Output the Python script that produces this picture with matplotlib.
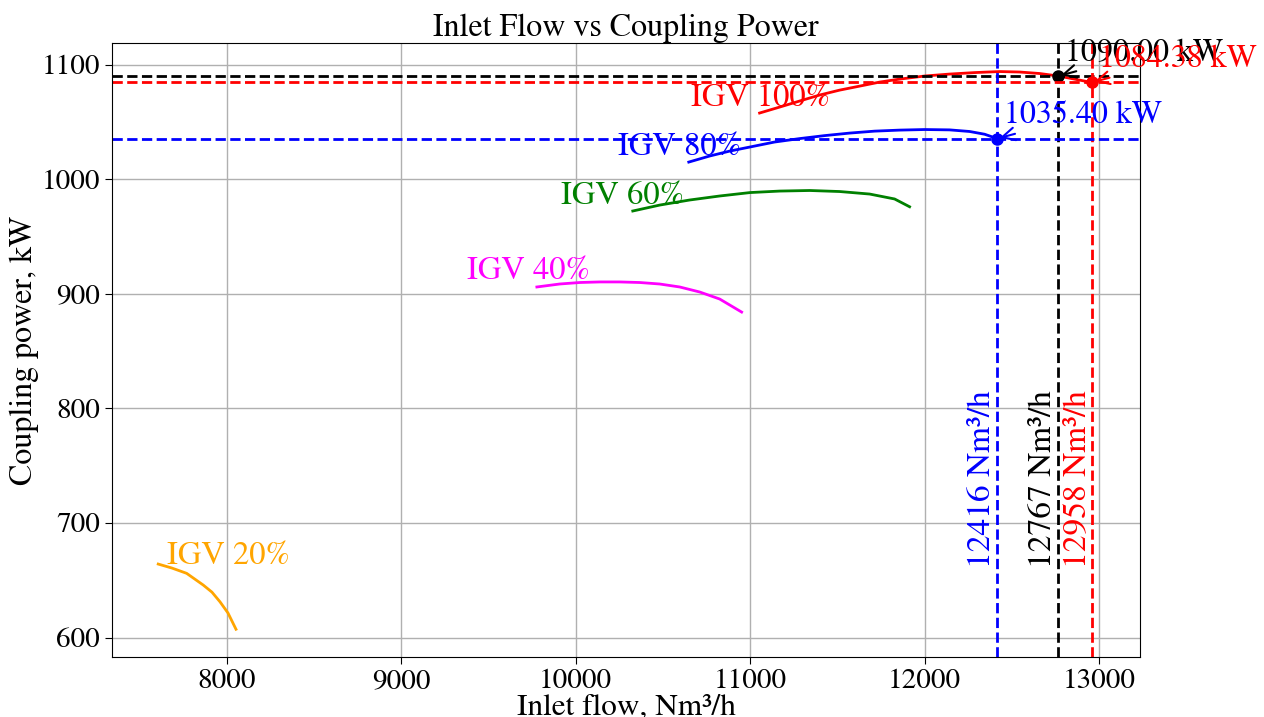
import numpy as np
import matplotlib
matplotlib.use('Agg')
import matplotlib.pyplot as plt

plt.rcParams['font.family'] = ['STIXGeneral', 'DejaVu Serif']
plt.rcParams['mathtext.fontset'] = 'stix'

# curve data (inlet flow Nm3/h, coupling power kW)
igv_labels = ['IGV 100%', 'IGV 80%', 'IGV 60%', 'IGV 40%', 'IGV 20%']
igv_colors = ['red', 'blue', 'green', 'magenta', 'orange']

flow_100 = [11054, 11169, 11284, 11398, 11513, 11628, 11742, 11857, 12000,
            12143, 12287, 12430, 12544, 12659, 12767, 12860, 12958]
power_100 = [1057.7, 1062.9, 1068.2, 1073.4, 1077.7, 1081.2, 1084.7, 1087.3, 1090.0,
             1091.7, 1093.0, 1093.9, 1093.5, 1092.2, 1090.0, 1087.3, 1084.38]

flow_80 = [10648, 10768, 10883, 10997, 11140, 11284, 11427, 11570, 11713,
           11857, 12000, 12143, 12258, 12344, 12416]
power_80 = [1014.9, 1020.2, 1024.5, 1028.0, 1032.4, 1035.4, 1038.0, 1040.2, 1041.9,
            1042.8, 1043.3, 1043.0, 1041.6, 1039.2, 1035.4]

flow_60 = [10327, 10482, 10653, 10825, 11000, 11169, 11341, 11513, 11685, 11828, 11914]
power_60 = [972.2, 977.4, 981.8, 985.3, 988.3, 989.6, 990.1, 989.2, 987.0, 982.7, 975.9]

flow_40 = [9777, 9908, 10023, 10138, 10252, 10367, 10481, 10596, 10711, 10825, 10951]
power_40 = [905.9, 908.5, 909.8, 910.3, 910.3, 909.8, 908.5, 905.9, 901.5, 895.4, 884.0]

flow_20 = [7606, 7685, 7769, 7864, 7914, 7960, 8006, 8052]
power_20 = [664.1, 660.6, 656.0, 645.8, 639.6, 631.2, 621.4, 607.2]

# where the IGV labels sit (center x, bottom y)
label_x = [11059, 10596, 10269, 9731, 8011]
label_y = [1058, 1015, 972, 906.5, 658]

# marked operating points
mark_flow = [12767, 12958, 12416]
mark_power = [1090.00, 1084.38, 1035.40]
mark_colors = ['black', 'red', 'blue']

flows = [flow_100, flow_80, flow_60, flow_40, flow_20]
powers = [power_100, power_80, power_60, power_40, power_20]

fig = plt.figure(figsize=(12.64, 7.17), dpi=100)
ax = fig.add_axes([0.0886, 0.0837, 0.8133, 0.8563])

for f, p, c, lab, lx, ly in zip(flows, powers, igv_colors, igv_labels, label_x, label_y):
    ax.plot(f, p, color=c, lw=2)
    ax.text(lx, ly, lab, color=c, fontsize=23.5, ha='center', va='bottom')

for fx, py, c in zip(mark_flow, mark_power, mark_colors):
    ax.axhline(py, color=c, ls='--', lw=2)
    ax.axvline(fx, color=c, ls='--', lw=2)
    ax.plot(fx, py, 'o', color=c, markersize=8)
    ax.annotate('%.2f kW' % py, xy=(fx, py), xytext=(5, 11), textcoords='offset points',
                color=c, fontsize=23, arrowprops=dict(arrowstyle='->', color=c, lw=1.5))
    ax.text(fx, 661, '%d Nm³/h' % fx, color=c, fontsize=24, rotation=90,
            ha='right', va='bottom')

ax.set_xlim(7341, 13235)
ax.set_ylim(583, 1118.8)
ax.set_xticks([8000, 9000, 10000, 11000, 12000, 13000])
ax.set_yticks([600, 700, 800, 900, 1000, 1100])
ax.tick_params(labelsize=21, length=5)
ax.grid(True, color='#b0b0b0', lw=1)
ax.set_axisbelow(True)

ax.set_title('Inlet Flow vs Coupling Power', fontsize=23, pad=4)
ax.set_xlabel('Inlet flow, Nm³/h', fontsize=22.5, labelpad=0)
ax.set_ylabel('Coupling power, kW', fontsize=23, labelpad=2)

fig.savefig('out.png', dpi=100)
